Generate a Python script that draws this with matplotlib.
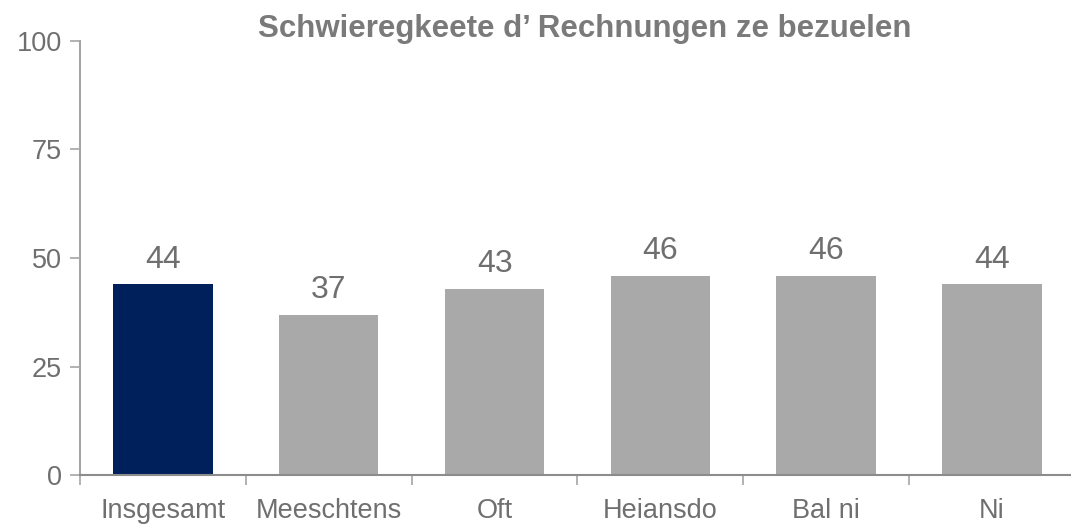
import matplotlib
matplotlib.use("Agg")
import matplotlib.pyplot as plt

categories = ["Insgesamt", "Meeschtens", "Oft", "Heiansdo", "Bal ni", "Ni"]
values = [44, 37, 43, 46, 46, 44]
yticks = [0, 25, 50, 75, 100]
title = "Schwieregkeete d\u2019 Rechnungen ze bezuelen"

plt.rcParams['font.family'] = ['Liberation Sans', 'DejaVu Sans']
text_color = "#6f6f6f"
axis_color = "#a6a6a6"
colors = ["#00205b"] + ["#a9a9a9"] * (len(categories) - 1)

fig = plt.figure(figsize=(10.71, 5.25), dpi=100)
ax = fig.add_axes([0.0747, 0.0943, 0.929, 0.828])

x = list(range(len(categories)))
ax.bar(x, values, width=0.6, color=colors, zorder=2)
for xi, v in zip(x, values):
    ax.annotate(str(v), (xi, v), xytext=(0, 7), textcoords="offset points",
                ha="center", va="bottom", fontsize=23, color=text_color)

ax.set_xlim(-0.5, len(categories) - 0.5)
ax.set_ylim(0, 100)
ax.set_yticks(yticks)
ax.set_yticklabels([str(t) for t in yticks])
ax.set_xticks(x)
ax.set_xticklabels(categories)
ax.set_xticks([i - 0.5 for i in range(len(categories))], minor=True)
ax.tick_params(axis="x", which="major", length=0, pad=16, labelsize=19.5, labelcolor=text_color)
ax.tick_params(axis="x", which="minor", length=7, width=1.2, color=axis_color, direction="out")
ax.tick_params(axis="y", length=7, width=1.2, color=axis_color, labelsize=19.5, labelcolor=text_color, pad=6)

for s in ["top", "right"]:
    ax.spines[s].set_visible(False)
for s in ["left", "bottom"]:
    ax.spines[s].set_color(axis_color)
    ax.spines[s].set_linewidth(1.5)
ax.spines["bottom"].set_color("#8c8c8c")

fig.text(0.546, 0.944, title, ha="center", va="center", fontsize=22.5,
         fontweight="bold", color="#7a7a7a")

fig.savefig("out.png", dpi=100)
